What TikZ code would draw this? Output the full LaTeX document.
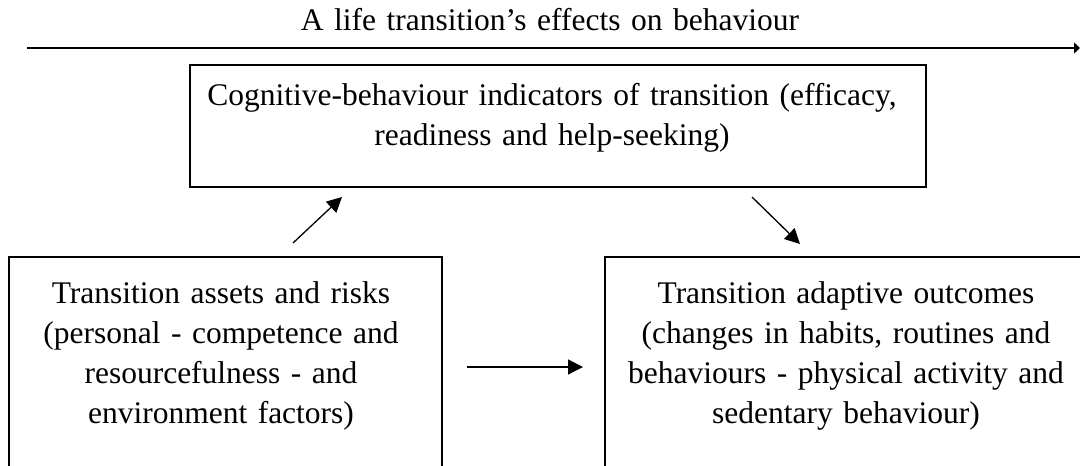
\documentclass[tikz,border=0pt]{standalone}
\usepackage{fontspec}
\setmainfont{Liberation Serif}
\usetikzlibrary{arrows.meta}
\begin{document}
\begin{tikzpicture}[x=1pt,y=-1pt,
  box/.style={draw, line width=1.6pt, inner sep=0pt},
  txt/.style={anchor=base, align=center, inner sep=0pt, font=\fontsize{31.5}{40}\selectfont},
  arr/.style={line width=1.3pt, -{Triangle[length=15pt,width=15pt]}},
  toparr/.style={line width=1.3pt, -{Triangle[length=6pt,width=11pt]}}]
\useasboundingbox (0,0) rectangle (1080,466);
\clip (0,0) rectangle (1080,466);
% time arrow and title
\coordinate (tstart) at (27,48);
\coordinate (tend) at (1080,48);
\draw[toparr] (tstart) -- (tend);
\node[txt, text width=700pt] (title) at (550,30) {A life transition’s effects on behaviour};
% boxes
\node[box, minimum width=736pt, minimum height=122pt] (top) at (558,126) {};
\node[box, minimum width=433pt, minimum height=233pt] (left) at (225.5,373.5) {};
\node[box, minimum width=485pt, minimum height=233pt] (right) at (847.5,373.5) {};
% texts
\node[txt, text width=720pt] (toptxt) at (552,105) {Cognitive-behaviour indicators of transition (efficacy,\\ readiness and help-seeking)};
\node[txt, text width=420pt] (lefttxt) at (221,303) {Transition assets and risks\\ (personal - competence and\\ resourcefulness - and\\ environment factors)};
\node[txt, text width=470pt] (righttxt) at (846,303) {Transition adaptive outcomes\\ (changes in habits, routines and\\ behaviours - physical activity and\\ sedentary behaviour)};
% connectors
\coordinate (a1s) at (293,243);
\coordinate (a1e) at (342,197);
\coordinate (a2s) at (752,197);
\coordinate (a2e) at (800,244);
\coordinate (a3s) at (467,367);
\coordinate (a3e) at (583,367);
\draw[arr] (a1s) -- (a1e);
\draw[arr] (a2s) -- (a2e);
\draw[arr] (a3s) -- (a3e);
\end{tikzpicture}
\end{document}
